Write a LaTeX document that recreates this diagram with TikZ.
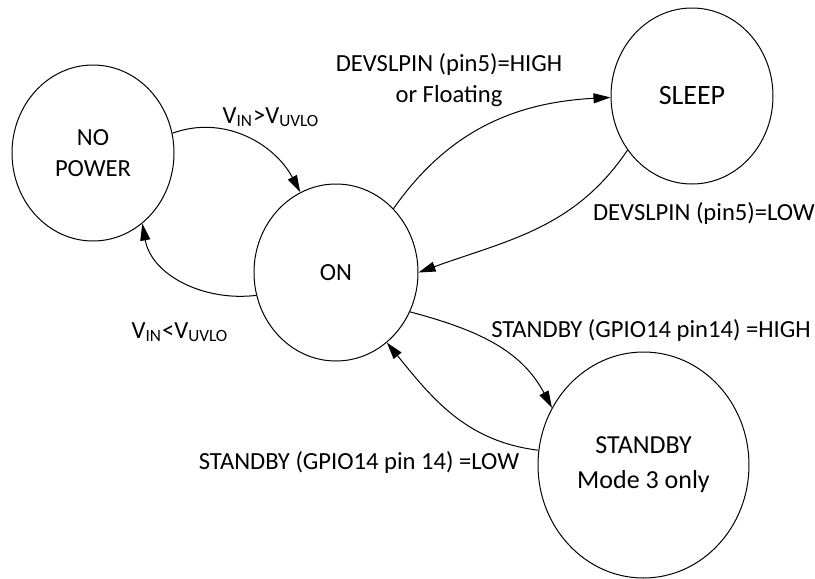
\documentclass[tikz,border=0pt]{standalone}
\usepackage{fontspec}
\setmainfont{Carlito}
\usetikzlibrary{shapes.geometric,positioning,arrows.meta}

\begin{document}
\begin{tikzpicture}
[
  state/.style={ellipse, draw, inner sep=0pt, align=center,
    minimum width=81pt, minimum height=88pt},
  cond/.style={align=center, inner sep=0pt},
  >={Triangle[length=8.5pt,width=5pt]},
  on grid,
  font=\fontsize{12.3}{15.5}\selectfont,
  line width=0.5pt
]
 \useasboundingbox (0,0) rectangle (407.5pt,-289.5pt);

 \node[state] (np) at (46.5pt,-76.5pt) {NO\\POWER};
 \node[state,minimum width=82pt,minimum height=88.5pt] (on) [below right=59.75pt and 121.5pt of np] {ON};
 \node[state,font=\fontsize{14}{16}\selectfont] (sleep) [above right=88.25pt and 178pt of on] {SLEEP};
 \node[state,minimum width=105.5pt,minimum height=113pt,font=\fontsize{13}{17.5}\selectfont] (stby) [below right=96.25pt and 153.75pt of on] {STANDBY\\Mode 3 only};

 \node[cond] (up) at (135.5pt,-58.5pt) {V\textsubscript{IN}>V\textsubscript{UVLO}};
 \node[cond] (hi) at (224.5pt,-40pt) {DEVSLPIN (pin5)=HIGH\\or Floating};
 \node[cond] (lo) at (352pt,-106.5pt) {DEVSLPIN (pin5)=LOW};
 \node[cond] (down) at (90pt,-166pt) {V\textsubscript{IN}<V\textsubscript{UVLO}};
 \node[cond] (sbhi) at (325.5pt,-165pt) {STANDBY (GPIO14 pin14) =HIGH};
 \node[cond] (sblo) at (179.5pt,-231pt) {STANDBY (GPIO14 pin 14) =LOW};

 \path[->]
   (np.14) edge [out=20, in=118] (on.114)
   (on.196) edge [out=187, in=-80] (np.305)
   (on.48) edge [out=55, in=183] (sleep.181)
   (sleep.220) edge [out=236, in=20] (on.0)
   (on.-28) edge [out=-15, in=118] (stby.148)
   (stby.172) edge [out=173, in=-51] (on.-54);
\end{tikzpicture}
\end{document}
